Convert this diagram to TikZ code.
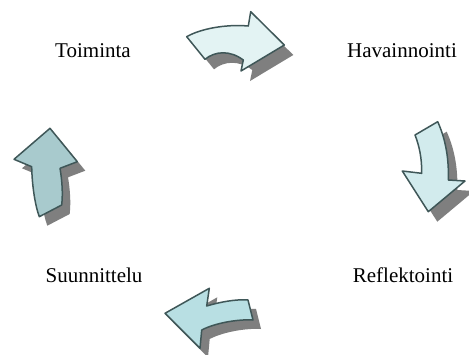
\documentclass[tikz,border=0pt]{standalone}
\usepackage{fontspec}
\setmainfont{Liberation Serif}
\definecolor{edgec}{HTML}{3F5758}
\definecolor{shadowc}{HTML}{7F7F7F}
\definecolor{fillA}{HTML}{E3F3F3}
\definecolor{fillB}{HTML}{D2EBED}
\definecolor{fillC}{HTML}{B8DFE3}
\definecolor{fillD}{HTML}{A8CACD}
\tikzset{
  arrowst/.style={draw=edgec, line width=1.5pt, line join=round},
  shadowst/.style={fill=shadowc, draw=none},
  lbl/.style={font=\fontsize{21}{25}\selectfont, inner sep=0pt},
  pics/toparrow/.style={code={\path[pic actions] (186.7,36.7) .. controls (200,29) and (225,24) .. (248.3,26) -- (250.7,11.7) -- (284.3,45) -- (241,71) -- (243.3,60) .. controls (230,50) and (215,51) .. (205,59.3) -- cycle;}},
  pics/rightarrow/.style={code={\path[pic actions] (415,135) -- (437.7,121.7) .. controls (446,140) and (449,160) .. (448.3,180) -- (465,181) -- (428.3,211.7) -- (402.3,171) -- (421.7,173.3) .. controls (422,158) and (419,145) .. (415,135) -- cycle;}},
  pics/bottomarrow/.style={code={\path[pic actions] (165,313.3) -- (209.3,288.3) -- (206.7,306) .. controls (220,302) and (236,299) .. (248,300) -- (253,320) .. controls (238,319) and (215,323) .. (201.7,330) -- (200,348.3) -- cycle;}},
  pics/leftarrow/.style={code={\path[pic actions] (50,128.3) -- (77.3,161.7) -- (60,168.3) .. controls (62,180) and (63,193) .. (61.7,205) -- (39.3,216.7) .. controls (35,205) and (32,185) .. (31.7,166.7) -- (14,159.3) -- cycle;}}
}
\begin{document}
\begin{tikzpicture}[x=1pt,y=-1pt]
\useasboundingbox[fill=white] (0,0) rectangle (469,354);
% shadows
\pic[shadowst] at (9,10) {toparrow};
\pic[shadowst] at (9,10) {rightarrow};
\pic[shadowst] at (8,9) {bottomarrow};
\pic[shadowst] at (8,9) {leftarrow};
% arrows
\pic[arrowst, fill=fillA] at (0,0) {toparrow};
\pic[arrowst, fill=fillB] at (0,0) {rightarrow};
\pic[arrowst, fill=fillC] at (0,0) {bottomarrow};
\pic[arrowst, fill=fillD] at (0,0) {leftarrow};
% labels
\node[lbl] (toim) at (93,51) {Toiminta};
\node[lbl] (hav) at (402,51) {Havainnointi};
\node[lbl] (suun) at (94,275) {Suunnittelu};
\node[lbl] (refl) at (403,275) {Reflektointi};
\end{tikzpicture}
\end{document}
